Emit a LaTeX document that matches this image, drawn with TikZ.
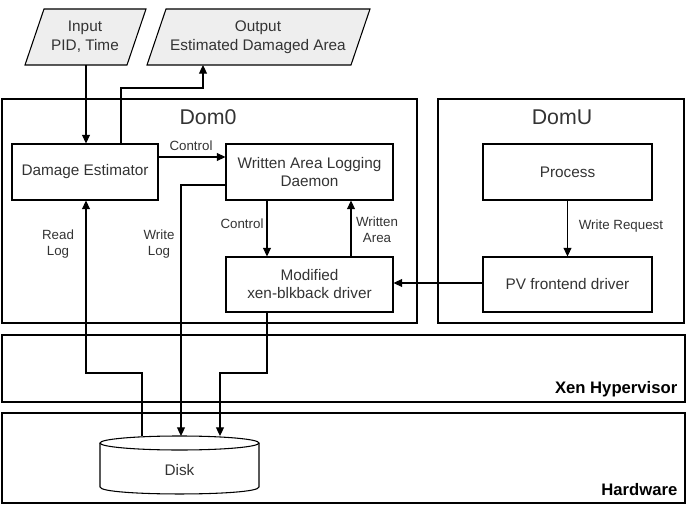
\documentclass[tikz,border=0pt]{standalone}
\usepackage{fontspec}
\setmainfont{Liberation Sans}
\usepackage{tikz}
\usetikzlibrary{calc, arrows.meta}

\definecolor{txtgray}{HTML}{333333}
\definecolor{iofill}{HTML}{EEEEEE}

\tikzset{
    box/.style={draw, line width=0.8pt, text=txtgray, align=center,
        font=\fontsize{11.5}{13.5}\selectfont},
    layer/.style={draw, line width=1pt},
    lbl/.style={text=txtgray, align=center, font=\fontsize{10}{12}\selectfont},
    arr/.style={line width=0.8pt, -{Triangle[length=6.5pt,width=6pt]}},
    wire/.style={line width=0.8pt}
}

\begin{document}
\begin{tikzpicture}[x=0.75pt, y=-0.75pt]
        \useasboundingbox (0,0) rectangle (686,510);

        % layers
        \draw[layer] (2,99) rectangle (417,323);
        \draw[layer] (438,99) rectangle (684,323);
        \draw[layer] (2,335) rectangle (685,402);
        \draw[layer] (2,413) rectangle (685,503);

        \node[text=txtgray, font=\fontsize{16}{18}\selectfont] (dom0) at (208,117) {Dom0};
        \node[text=txtgray, font=\fontsize{16}{18}\selectfont] (domu) at (562,117) {DomU};
        \node[anchor=east, font=\fontsize{12.5}{14}\selectfont\bfseries] (xen) at (682,389) {Xen Hypervisor};
        \node[anchor=east, font=\fontsize{12.5}{14}\selectfont\bfseries] (hw) at (682,490) {Hardware};

        % input / output
        \draw[line width=0.8pt, fill=iofill] (25,65) -- (44,9) -- (146,9) -- (127,65) -- cycle;
        \draw[line width=0.8pt, fill=iofill] (147,65) -- (166,9) -- (370,9) -- (351,65) -- cycle;
        \node[lbl, font=\fontsize{11.5}{14}\selectfont] (inp) at (85,37) {Input\\PID, Time};
        \node[lbl, font=\fontsize{11.5}{14}\selectfont] (outp) at (258,37) {Output\\Estimated Damaged Area};

        % boxes
        \node[box, minimum width=109.5pt, minimum height=42pt] (de) at (85,172) {Damage Estimator};
        \node[box, minimum width=125.25pt, minimum height=42pt] (wald) at (309.5,172) {Written Area Logging\\Daemon};
        \node[box, minimum width=125.25pt, minimum height=41.25pt] (mxb) at (309.5,284.5) {Modified\\xen-blkback driver};
        \node[box, minimum width=126.75pt, minimum height=42pt] (proc) at (567.5,172) {Process};
        \node[box, minimum width=126.75pt, minimum height=41.25pt] (pv) at (567.5,284.5) {PV frontend driver};

        % disk
        \draw[line width=0.8pt, fill=white] (100,443) -- (100,487) .. controls (100,496.3) and (259,496.3) .. (259,487) -- (259,443);
        \draw[line width=0.8pt, fill=white] (179.5,443) ellipse [x radius=79.5, y radius=7];
        \node[box, draw=none] (disk) at (179.5,470) {Disk};
        \coordinate (dtop) at (179.5,436);

        % bends
        \coordinate (inx) at (86,65);
        \coordinate (outb) at (121,88);
        \coordinate (outx) at (203,65);
        \coordinate (ctl) at (0,157);
        \coordinate (wl) at (181,185);
        \coordinate (rl) at (86,373);
        \coordinate (rlx) at (142,373);
        \coordinate (mb) at (267,373);
        \coordinate (mbx) at (220,373);
        \coordinate (wa) at (351,0);
        \coordinate (pvy) at (0,283);

        % connectors
        \draw[arr] (inx) -- (inx |- de.north);
        \draw[arr] (outb |- de.north) -- (outb) -| (outx);
        \draw[arr] (ctl -| de.east) -- (ctl -| wald.west);
        \draw[arr] (wl -| wald.west) -- (wl) -- (wl |- dtop);
        \draw[arr] (rlx |- dtop) -- (rlx) -- (rl) -- (rl |- de.south);
        \draw[arr] (mb |- wald.south) -- (mb |- mxb.north);
        \draw[arr] (wa |- mxb.north) -- (wa |- wald.south);
        \draw[arr] (mb |- mxb.south) -- (mb) -- (mbx) -- (mbx |- dtop);
        \draw[arr] (proc.south) -- (pv.north);
        \draw[arr] (pvy -| pv.west) -- (pvy -| mxb.east);

        \node[lbl] at (191,146) {Control};
        \node[lbl] at (242,224) {Control};
        \node[lbl] at (377,230) {Written\\Area};
        \node[lbl] at (58,244) {Read\\Log};
        \node[lbl] at (159,244) {Write\\Log};
        \node[lbl] at (621,226) {Write Request};
    \end{tikzpicture}
\end{document}
